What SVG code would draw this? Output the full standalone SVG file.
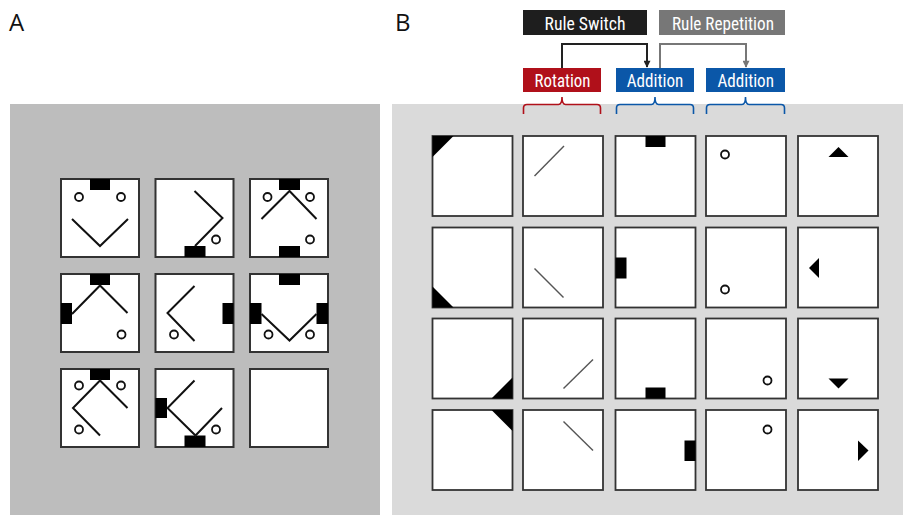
<svg xmlns="http://www.w3.org/2000/svg" width="903" height="515" viewBox="0 0 903 515">
<style>
.lbl{font-family:"Open Sans","DejaVu Sans",sans-serif;font-size:24px;fill:#111}
.hd{font-family:"Liberation Sans Narrow","Roboto Condensed","Liberation Sans",sans-serif;font-size:18px;fill:#fff;text-anchor:middle}
.ca{fill:#fff;stroke:#333;stroke-width:2}
.cb{fill:#fff;stroke:#333;stroke-width:1.8}
.ln{fill:none;stroke:#111;stroke-width:2}
.ob{fill:#fff;stroke:#111;stroke-width:1.8}
.bk{fill:#000}
.thin{fill:none;stroke:#555;stroke-width:1.4}
</style>
<defs>
<marker id="ab" viewBox="0 0 10 10" refX="9" refY="5" markerWidth="8" markerHeight="7" orient="auto" markerUnits="userSpaceOnUse"><path d="M0,0 L10,5 L0,10 z" fill="#222"/></marker>
<marker id="ag" viewBox="0 0 10 10" refX="9" refY="5" markerWidth="8" markerHeight="7" orient="auto" markerUnits="userSpaceOnUse"><path d="M0,0 L10,5 L0,10 z" fill="#777"/></marker>
</defs>
<rect width="903" height="515" fill="#fff"/>
<rect x="10" y="104" width="370" height="411" fill="#bdbdbd"/>
<rect x="392" y="104" width="511" height="411" fill="#dadada"/>
<text class="lbl" x="9" y="31">A</text>
<text class="lbl" x="395" y="31">B</text>

<!-- Panel A -->
<g id="a11" transform="translate(61,179)"><rect class="ca" width="78" height="78"/><rect class="bk" x="29" y="0" width="20" height="11"/><circle class="ob" cx="18" cy="18" r="4"/><circle class="ob" cx="60" cy="18" r="4"/><polyline class="ln" points="11,40 39,67 67,40"/></g>
<g id="a12" transform="translate(155.5,179)"><rect class="ca" width="78" height="78"/><rect class="bk" x="29" y="67" width="21" height="11"/><circle class="ob" cx="60.5" cy="60.5" r="4"/><polyline class="ln" points="39,12 67,39 39.5,67"/></g>
<g id="a13" transform="translate(250,179)"><rect class="ca" width="78" height="78"/><rect class="bk" x="29" y="0" width="21" height="11"/><rect class="bk" x="29" y="67" width="21" height="11"/><circle class="ob" cx="17.5" cy="18" r="4"/><circle class="ob" cx="60" cy="18" r="4"/><circle class="ob" cx="60" cy="60.5" r="4"/><polyline class="ln" points="11.5,40 39.5,12 66.5,40"/></g>

<g id="a21" transform="translate(61,274)"><rect class="ca" width="78" height="78"/><rect class="bk" x="29" y="0" width="20" height="11"/><rect class="bk" x="0" y="29" width="11" height="21"/><circle class="ob" cx="60.5" cy="60.5" r="4"/><polyline class="ln" points="11,40 39,11.5 66.5,39"/></g>
<g id="a22" transform="translate(155.5,274)"><rect class="ca" width="78" height="78"/><rect class="bk" x="67" y="29" width="11" height="21"/><circle class="ob" cx="18.5" cy="60.5" r="4"/><polyline class="ln" points="39,12 12,39 39,67"/></g>
<g id="a23" transform="translate(250,274)"><rect class="ca" width="78" height="78"/><rect class="bk" x="29" y="0" width="21" height="11"/><rect class="bk" x="0" y="29" width="11.5" height="21"/><rect class="bk" x="66.5" y="29" width="11.5" height="21"/><circle class="ob" cx="18.5" cy="60.5" r="4"/><circle class="ob" cx="60" cy="60.5" r="4"/><polyline class="ln" points="11.5,40 39.5,66.5 66.5,40"/></g>

<g id="a31" transform="translate(61,369)"><rect class="ca" width="78" height="78"/><rect class="bk" x="29" y="0" width="20" height="11"/><circle class="ob" cx="18" cy="16.5" r="4"/><circle class="ob" cx="60" cy="16.5" r="4"/><circle class="ob" cx="18" cy="60.5" r="4"/><polyline class="ln" points="39,66.5 12,39 39,11.5 66.5,39"/></g>
<g id="a32" transform="translate(155.5,369)"><rect class="ca" width="78" height="78"/><rect class="bk" x="0" y="29" width="11.5" height="20"/><rect class="bk" x="29" y="66.5" width="21" height="11.5"/><circle class="ob" cx="60.5" cy="60.5" r="4"/><polyline class="ln" points="39,11.5 12,39 40,66.5 66.5,39"/></g>
<g id="a33" transform="translate(250,369)"><rect class="ca" width="78" height="78"/></g>

<!-- Panel B header -->
<g id="h-switch"><rect x="523" y="10" width="124" height="25" fill="#1e1e1e"/><text class="hd" x="585" y="30" textLength="81" lengthAdjust="spacingAndGlyphs">Rule Switch</text></g>
<g id="h-rep"><rect x="659" y="10" width="126" height="25" fill="#777"/><text class="hd" x="723" y="30" textLength="102" lengthAdjust="spacingAndGlyphs">Rule Repetition</text></g>
<g id="h-rot"><rect x="523" y="68" width="78" height="24" fill="#b0101a"/><text class="hd" x="562.5" y="87" textLength="56" lengthAdjust="spacingAndGlyphs">Rotation</text></g>
<g id="h-add1"><rect x="616" y="68" width="78" height="24" fill="#0b57a8"/><text class="hd" x="655" y="87" textLength="56.5" lengthAdjust="spacingAndGlyphs">Addition</text></g>
<g id="h-add2"><rect x="706" y="68" width="79" height="24" fill="#0b57a8"/><text class="hd" x="745.7" y="87" textLength="56.5" lengthAdjust="spacingAndGlyphs">Addition</text></g>

<g id="connectors">
<polyline points="562,68 562,44 647,44 647,67" fill="none" stroke="#222" stroke-width="2" marker-end="url(#ab)"/>
<polyline points="660,68 660,44 746,44 746,67" fill="none" stroke="#777" stroke-width="2" marker-end="url(#ag)"/>
<path d="M523.5,114 V108 Q523.5,104.5 527,104.5 H558.5 Q562,104.5 562,97 Q562,104.5 565.5,104.5 H597 Q600.5,104.5 600.5,108 V114" fill="none" stroke="#b0101a" stroke-width="1.6"/>
<path d="M616.5,114 V108 Q616.5,104.5 620,104.5 H651.5 Q655,104.5 655,97 Q655,104.5 658.5,104.5 H690 Q693.5,104.5 693.5,108 V114" fill="none" stroke="#0b57a8" stroke-width="1.6"/>
<path d="M706.5,114 V108 Q706.5,104.5 710,104.5 H742 Q745.5,104.5 745.5,97 Q745.5,104.5 749,104.5 H781 Q784.5,104.5 784.5,108 V114" fill="none" stroke="#0b57a8" stroke-width="1.6"/>
</g>

<!-- Panel B grid -->
<g id="b11" transform="translate(432.5,136)"><rect class="cb" width="80" height="80"/><polygon class="bk" points="0,0 21,0 0,21"/></g>
<g id="b12" transform="translate(523,136)"><rect class="cb" width="80" height="80"/><line class="thin" x1="11.5" y1="40" x2="41" y2="10"/></g>
<g id="b13" transform="translate(615.5,136)"><rect class="cb" width="80" height="80"/><rect class="bk" x="30" y="0" width="20" height="11"/></g>
<g id="b14" transform="translate(706,136)"><rect class="cb" width="80" height="80"/><circle class="ob" cx="19" cy="18.5" r="4"/></g>
<g id="b15" transform="translate(798,136)"><rect class="cb" width="80" height="80"/><polygon class="bk" points="30.5,21 50.5,21 40.5,11"/></g>

<g id="b21" transform="translate(432.5,227.5)"><rect class="cb" width="80" height="80"/><polygon class="bk" points="0,80 0,59 21,80"/></g>
<g id="b22" transform="translate(523,227.5)"><rect class="cb" width="80" height="80"/><line class="thin" x1="11.5" y1="41" x2="40.5" y2="70"/></g>
<g id="b23" transform="translate(615.5,227.5)"><rect class="cb" width="80" height="80"/><rect class="bk" x="0" y="30" width="11" height="21"/></g>
<g id="b24" transform="translate(706,227.5)"><rect class="cb" width="80" height="80"/><circle class="ob" cx="19" cy="62" r="4"/></g>
<g id="b25" transform="translate(798,227.5)"><rect class="cb" width="80" height="80"/><polygon class="bk" points="11,40.5 21,30.5 21,50.5"/></g>

<g id="b31" transform="translate(432.5,318.5)"><rect class="cb" width="80" height="80"/><polygon class="bk" points="80,80 80,59 59,80"/></g>
<g id="b32" transform="translate(523,318.5)"><rect class="cb" width="80" height="80"/><line class="thin" x1="40.5" y1="70" x2="70" y2="41"/></g>
<g id="b33" transform="translate(615.5,318.5)"><rect class="cb" width="80" height="80"/><rect class="bk" x="30" y="69" width="20" height="11"/></g>
<g id="b34" transform="translate(706,318.5)"><rect class="cb" width="80" height="80"/><circle class="ob" cx="61.5" cy="62" r="4"/></g>
<g id="b35" transform="translate(798,318.5)"><rect class="cb" width="80" height="80"/><polygon class="bk" points="30.5,60 50.5,60 40.5,70"/></g>

<g id="b41" transform="translate(432.5,410)"><rect class="cb" width="80" height="80"/><polygon class="bk" points="59,0 80,0 80,21"/></g>
<g id="b42" transform="translate(523,410)"><rect class="cb" width="80" height="80"/><line class="thin" x1="40.5" y1="11.5" x2="70" y2="40.5"/></g>
<g id="b43" transform="translate(615.5,410)"><rect class="cb" width="80" height="80"/><rect class="bk" x="69" y="30.5" width="11" height="20.5"/></g>
<g id="b44" transform="translate(706,410)"><rect class="cb" width="80" height="80"/><circle class="ob" cx="61.5" cy="19.5" r="4"/></g>
<g id="b45" transform="translate(798,410)"><rect class="cb" width="80" height="80"/><polygon class="bk" points="60,30.5 60,51 70.5,40.5"/></g>
</svg>
